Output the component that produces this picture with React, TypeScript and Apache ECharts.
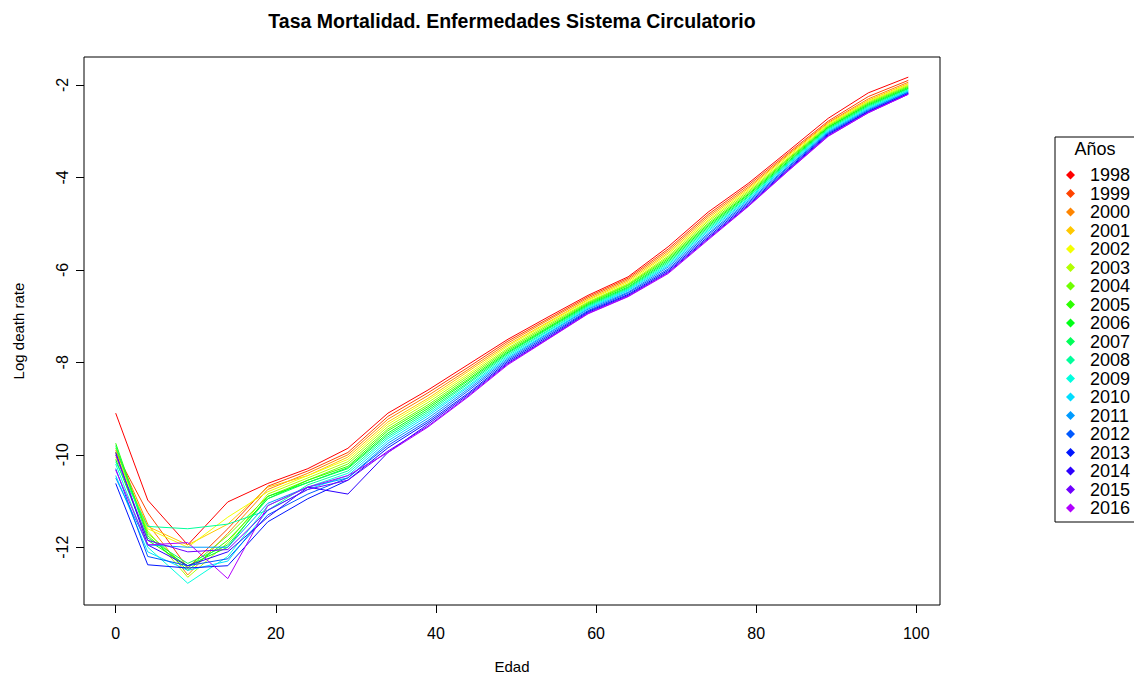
import React, { useEffect, useRef } from "react";
import * as echarts from "echarts";

const AGES = [0, 4, 9, 14, 19, 24, 29, 34, 39, 44, 49, 54, 59, 64, 69, 74, 79, 84, 89, 94, 99];
const YEARS = ["1998", "1999", "2000", "2001", "2002", "2003", "2004", "2005", "2006", "2007", "2008", "2009", "2010", "2011", "2012", "2013", "2014", "2015", "2016"];
const X_TICKS = [0, 20, 40, 60, 80, 100];
const Y_TICKS = [-12, -10, -8, -6, -4, -2];

const y1998 = [-9.10, -10.98, -11.95, -11.02, -10.62, -10.30, -9.86, -9.10, -8.60, -8.05, -7.50, -7.02, -6.55, -6.15, -5.50, -4.75, -4.13, -3.43, -2.72, -2.17, -1.83];
const y1999 = [-9.95, -11.25, -12.45, -11.60, -10.68, -10.35, -9.95, -9.17, -8.66, -8.11, -7.54, -7.06, -6.58, -6.18, -5.55, -4.80, -4.17, -3.47, -2.78, -2.25, -1.90];
const y2000 = [-9.90, -11.50, -12.60, -11.70, -10.75, -10.40, -10.00, -9.23, -8.72, -8.16, -7.58, -7.09, -6.61, -6.21, -5.59, -4.84, -4.21, -3.50, -2.81, -2.30, -1.94];
const y2001 = [-10.00, -11.55, -11.95, -11.50, -10.70, -10.45, -10.05, -9.29, -8.78, -8.20, -7.62, -7.13, -6.64, -6.24, -5.63, -4.88, -4.24, -3.52, -2.83, -2.33, -1.97];
const y2002 = [-10.05, -11.60, -12.00, -11.35, -10.80, -10.45, -10.10, -9.34, -8.82, -8.25, -7.65, -7.15, -6.66, -6.27, -5.66, -4.92, -4.27, -3.55, -2.85, -2.35, -1.99];
const y2003 = [-9.95, -11.65, -12.65, -11.90, -10.85, -10.50, -10.15, -9.39, -8.87, -8.29, -7.69, -7.18, -6.69, -6.30, -5.70, -4.95, -4.30, -3.58, -2.87, -2.37, -2.01];
const y2004 = [-9.85, -11.70, -12.45, -11.75, -10.90, -10.55, -10.20, -9.44, -8.92, -8.33, -7.72, -7.21, -6.71, -6.32, -5.73, -4.99, -4.33, -3.60, -2.89, -2.39, -2.03];
const y2005 = [-9.75, -11.75, -12.50, -11.85, -10.95, -10.55, -10.25, -9.48, -8.96, -8.37, -7.75, -7.24, -6.73, -6.34, -5.76, -5.02, -4.36, -3.62, -2.91, -2.41, -2.05];
const y2006 = [-10.10, -11.85, -12.40, -12.00, -10.90, -10.60, -10.28, -9.53, -9.00, -8.40, -7.78, -7.26, -6.75, -6.37, -5.79, -5.05, -4.38, -3.65, -2.92, -2.43, -2.07];
const y2007 = [-9.80, -11.80, -12.35, -11.95, -10.95, -10.60, -10.30, -9.57, -9.04, -8.44, -7.80, -7.28, -6.77, -6.39, -5.82, -5.08, -4.41, -3.67, -2.94, -2.45, -2.08];
const y2008 = [-10.15, -11.55, -11.60, -11.50, -11.20, -10.65, -10.35, -9.61, -9.08, -8.47, -7.83, -7.31, -6.79, -6.41, -5.85, -5.11, -4.43, -3.69, -2.96, -2.47, -2.10];
const y2009 = [-10.20, -12.00, -12.78, -12.20, -11.10, -10.70, -10.40, -9.65, -9.12, -8.51, -7.86, -7.33, -6.81, -6.43, -5.88, -5.14, -4.46, -3.71, -2.98, -2.49, -2.12];
const y2010 = [-10.45, -12.10, -12.50, -12.30, -11.20, -10.75, -10.45, -9.70, -9.16, -8.54, -7.89, -7.36, -6.83, -6.45, -5.91, -5.17, -4.48, -3.73, -3.00, -2.51, -2.13];
const y2011 = [-10.50, -11.95, -12.00, -12.00, -11.05, -10.70, -10.50, -9.75, -9.21, -8.58, -7.92, -7.38, -6.85, -6.48, -5.94, -5.21, -4.51, -3.76, -3.02, -2.53, -2.15];
const y2012 = [-10.30, -12.20, -12.40, -12.25, -11.30, -10.85, -10.50, -9.80, -9.26, -8.62, -7.95, -7.41, -6.88, -6.50, -5.98, -5.24, -4.54, -3.78, -3.04, -2.55, -2.16];
const y2013 = [-10.62, -12.38, -12.45, -12.40, -11.45, -10.95, -10.55, -9.85, -9.30, -8.67, -7.98, -7.44, -6.90, -6.53, -6.01, -5.28, -4.57, -3.81, -3.06, -2.57, -2.18];
const y2014 = [-9.95, -11.95, -12.40, -12.10, -11.35, -10.70, -10.85, -9.95, -9.34, -8.70, -8.01, -7.47, -6.92, -6.55, -6.04, -5.31, -4.60, -3.83, -3.08, -2.58, -2.19];
const y2015 = [-10.00, -11.85, -12.10, -12.05, -11.20, -10.75, -10.55, -9.92, -9.38, -8.73, -8.03, -7.49, -6.94, -6.57, -6.06, -5.33, -4.62, -3.85, -3.10, -2.60, -2.20];
const y2016 = [-10.33, -11.95, -11.90, -12.68, -11.10, -10.70, -10.45, -9.95, -9.40, -8.75, -8.05, -7.50, -6.95, -6.58, -6.08, -5.35, -4.63, -3.86, -3.11, -2.60, -2.20];

const SERIES_VALUES = [y1998, y1999, y2000, y2001, y2002, y2003, y2004, y2005, y2006, y2007, y2008, y2009, y2010, y2011, y2012, y2013, y2014, y2015, y2016];

const COLORS = ["#FF0000", "#FF4300", "#FF8500", "#FFC800", "#F4FF00", "#B1FF00", "#6FFF00", "#2CFF00", "#00FF16", "#00FF59", "#00FF9B", "#00FFDE", "#00DEFF", "#009BFF", "#0059FF", "#0016FF", "#2C00FF", "#6F00FF", "#B100FF"];

const FONT = "'Liberation Sans', Arial, sans-serif";

export default function App() {
  const ref = useRef<HTMLDivElement>(null);
  useEffect(() => {
    if (!ref.current) return;
    const chart = echarts.init(ref.current, null, { renderer: "svg" });
    const series = YEARS.map((yr, i) => ({
      name: yr,
      type: "line",
      data: AGES.map((a, j) => [a, SERIES_VALUES[i][j]]),
      showSymbol: false,
      symbol: "diamond",
      itemStyle: { color: COLORS[i] },
      lineStyle: { color: COLORS[i], width: 1 },
      silent: true,
    }));
    chart.setOption({
      animation: false,
      backgroundColor: "#ffffff",
      textStyle: { fontFamily: FONT },
      grid: {
        left: 84,
        right: 194,
        top: 57,
        bottom: 72,
        show: true,
        borderColor: "#000",
        borderWidth: 1,
        containLabel: false,
        outerBoundsMode: "none",
      },
      xAxis: {
        type: "value",
        min: -3.96,
        max: 102.96,
        name: "Edad",
        nameLocation: "middle",
        nameGap: 54,
        nameTextStyle: { fontSize: 15, color: "#000", fontFamily: FONT },
        axisLine: { show: false, onZero: false },
        splitLine: { show: false },
        axisTick: { show: true, length: 8, lineStyle: { color: "#000" }, customValues: X_TICKS },
        axisLabel: { customValues: X_TICKS, color: "#000", fontSize: 16, margin: 20, fontFamily: FONT },
      },
      yAxis: {
        type: "value",
        min: -13.25,
        max: -1.394,
        name: "Log death rate",
        nameLocation: "middle",
        nameGap: 58,
        nameRotate: 90,
        nameTextStyle: { fontSize: 15, color: "#000", fontFamily: FONT },
        axisLine: { show: false, onZero: false },
        splitLine: { show: false },
        axisTick: { show: true, length: 8, lineStyle: { color: "#000" }, customValues: Y_TICKS },
        axisLabel: { customValues: Y_TICKS, color: "#000", fontSize: 16, margin: 14, rotate: 90, fontFamily: FONT },
      },
      legend: {
        data: YEARS.map((yr, i) => ({ name: yr, icon: "diamond", itemStyle: { color: COLORS[i] } })),
        orient: "vertical",
        left: 1055,
        top: 137,
        padding: [29, 40, 5, 11],
        itemWidth: 9,
        itemHeight: 9,
        itemGap: 0.5,
        borderColor: "#000",
        borderWidth: 1,
        selectedMode: false,
        textStyle: { fontSize: 18, lineHeight: 18, color: "#000", fontFamily: FONT, padding: [0, 0, 0, 10] },
      },
      graphic: [
        {
          type: "text",
          x: 512,
          y: 21,
          style: {
            text: "Tasa Mortalidad. Enfermedades Sistema Circulatorio",
            textAlign: "center",
            textVerticalAlign: "middle",
            font: "bold 19.5px 'Liberation Sans', Arial, sans-serif",
            fill: "#000",
          },
        },
        {
          type: "text",
          x: 1095,
          y: 149,
          style: {
            text: "Años",
            textAlign: "center",
            textVerticalAlign: "middle",
            font: "18px 'Liberation Sans', Arial, sans-serif",
            fill: "#000",
          },
        },
      ],
      series,
    });
    return () => chart.dispose();
  }, []);
  return (
    <div
      ref={ref}
      style={{ position: "fixed", left: 0, top: 0, width: 1134, height: 677, background: "#fff" }}
    />
  );
}
